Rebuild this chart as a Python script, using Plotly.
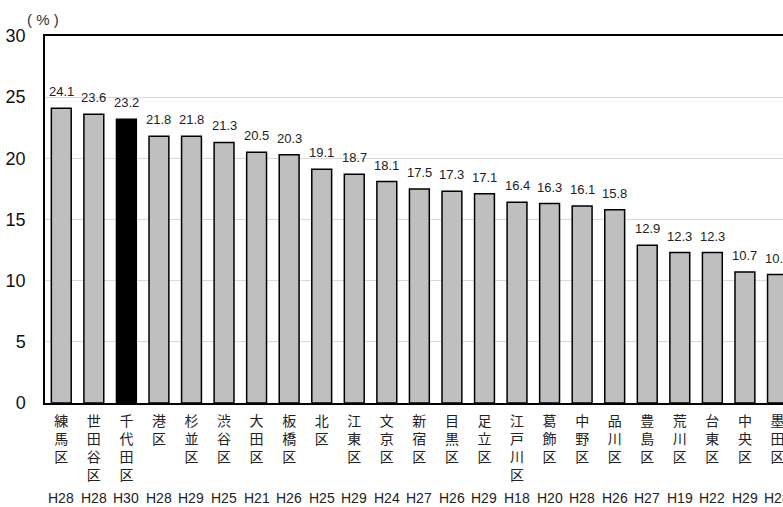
import plotly.graph_objects as go

wards = ["練馬区", "世田谷区", "千代田区", "港区", "杉並区", "渋谷区", "大田区", "板橋区",
         "北区", "江東区", "文京区", "新宿区", "目黒区", "足立区", "江戸川区", "葛飾区",
         "中野区", "品川区", "豊島区", "荒川区", "台東区", "中央区", "墨田区"]
values = [24.1, 23.6, 23.2, 21.8, 21.8, 21.3, 20.5, 20.3, 19.1, 18.7, 18.1, 17.5,
          17.3, 17.1, 16.4, 16.3, 16.1, 15.8, 12.9, 12.3, 12.3, 10.7, 10.5]
years = ["H28", "H28", "H30", "H28", "H29", "H25", "H21", "H26", "H25", "H29", "H24", "H27",
         "H26", "H29", "H18", "H20", "H28", "H26", "H27", "H19", "H22", "H29", "H28"]
highlight = "千代田区"
y_ticks = [0, 5, 10, 15, 20, 25, 30]

idx = list(range(len(wards)))
colors = ["#000000" if w == highlight else "#bfbfbf" for w in wards]
tick_text = ["<br>".join(list(w)) for w in wards]

fig = go.Figure()
fig.add_trace(go.Bar(
    x=idx, y=values,
    marker=dict(color=colors, line=dict(color="#000000", width=1.5)),
    hoverinfo="skip",
))

for i, v in zip(idx, values):
    fig.add_annotation(x=i, y=v, text=f"{v:.1f}", showarrow=False,
                       xref="x", yref="y", yanchor="bottom", yshift=7,
                       font=dict(family="Liberation Sans, Arial", size=13, color="#222222"))

for i, yr in zip(idx, years):
    fig.add_annotation(x=i, y=-0.259, text=yr, showarrow=False,
                       xref="x", yref="paper", yanchor="middle",
                       font=dict(family="Liberation Sans, Arial", size=14, color="#222222"))

fig.add_annotation(x=-0.003, y=1.044, xref="paper", yref="paper", text="( % )",
                   showarrow=False, xanchor="center", yanchor="middle",
                   font=dict(family="Liberation Sans, Arial", size=15, color="#333333"))

fig.update_layout(
    width=783, height=507,
    margin=dict(l=45, r=0, t=36, b=104),
    paper_bgcolor="white", plot_bgcolor="white",
    bargap=0.39, showlegend=False,
)
fig.update_xaxes(
    range=[-0.5, 22.17], tickmode="array", tickvals=idx, ticktext=tick_text,
    tickfont=dict(family="Noto Sans CJK JP", size=14, color="#222222"),
    showline=True, linecolor="#000000", linewidth=1.5, mirror=True,
    ticks="", showgrid=False, ticklabelstandoff=4, ticklabeloverflow="allow",
)
fig.update_yaxes(
    range=[0, 30], tickvals=y_ticks,
    tickfont=dict(family="Liberation Sans, Arial", size=18, color="#111111"),
    showline=True, linecolor="#000000", linewidth=1.5,
    showgrid=True, gridcolor="#d9d9d9", gridwidth=1,
    ticks="", ticklabelstandoff=14, zeroline=False,
)

fig.write_html("out.html", config={"displayModeBar": False},
               post_script="document.body.style.margin='0';document.body.style.overflow='hidden';")
